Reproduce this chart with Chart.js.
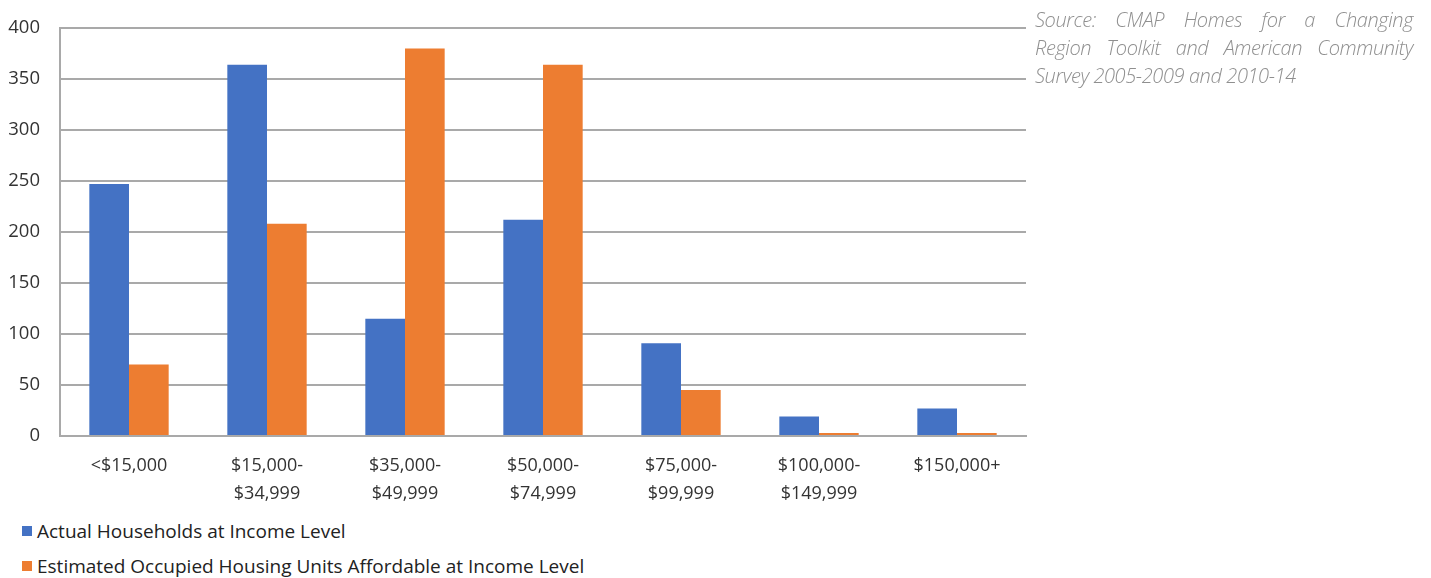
<!DOCTYPE html>
<html>
<head>
<meta charset="utf-8">
<script src="https://cdn.jsdelivr.net/npm/chart.js@4"></script>
<style>
  html, body { margin: 0; padding: 0; background: #ffffff; }
  body { width: 1431px; height: 578px; position: relative; overflow: hidden; font-family: "Open Sans", "Noto Sans", sans-serif; }
  #wrap { position: absolute; left: 0; top: 0; width: 1040px; height: 510px; }
  #legend { position: absolute; left: 22px; top: 513px; font-size: 19px; color: #222; }
  #legend .item { display: flex; align-items: center; height: 35px; }
  #legend .box { width: 10px; height: 10px; margin-right: 5px; }
  #source {
    position: absolute; left: 1035px; top: 6px; width: 378px;
    font-size: 20px; line-height: 28px; font-style: italic; font-weight: 300;
    color: #8f8f8f; letter-spacing: -0.4px;
  }
  #source .line { text-align: justify; text-align-last: justify; white-space: nowrap; }
  #source .line.last { text-align: left; text-align-last: left; }
</style>
</head>
<body>
<div id="wrap"><canvas id="chart"></canvas></div>
<div id="legend"></div>
<div id="source">
  <div class="line">Source: CMAP Homes for a Changing</div>
  <div class="line">Region Toolkit and American Community</div>
  <div class="line last">Survey 2005-2009 and 2010-14</div>
</div>
<script>
// Income brackets (two-line labels)
const incomeBrackets = [
  "<$15,000",
  ["$15,000-", "$34,999"],
  ["$35,000-", "$49,999"],
  ["$50,000-", "$74,999"],
  ["$75,000-", "$99,999"],
  ["$100,000-", "$149,999"],
  "$150,000+"
];

// Households by income level
const actualHouseholds = [247, 364, 115, 212, 91, 19, 27];

// Occupied units affordable at each income level
const affordableUnits = [70, 208, 380, 364, 45, 3, 3];

const seriesNames = [
  "Actual Households at Income Level",
  "Estimated Occupied Housing Units Affordable at Income Level"
];
const seriesColors = ["#4472C4", "#ED7D31"];

const gridColor = "#a9a9a9";
const tickFont = "'Open Sans', 'Noto Sans', sans-serif";

const chart = new Chart(document.getElementById("chart"), {
  type: "bar",
  data: {
    labels: incomeBrackets,
    datasets: [
      { label: seriesNames[0], data: actualHouseholds, backgroundColor: seriesColors[0] },
      { label: seriesNames[1], data: affordableUnits, backgroundColor: seriesColors[1] }
    ]
  },
  options: {
    responsive: true,
    maintainAspectRatio: false,
    animation: false,
    layout: { padding: { top: 28, right: 14, left: 0, bottom: 0 } },
    datasets: { bar: { categoryPercentage: 0.575, barPercentage: 1.0 } },
    plugins: { legend: { display: false }, tooltip: { enabled: false } },
    scales: {
      x: {
        grid: { display: false, drawTicks: false },
        border: { display: true, color: gridColor, width: 2 },
        ticks: {
          color: "#333",
          font: { family: tickFont, size: 18, lineHeight: 1.6 },
          padding: 15,
          maxRotation: 0,
          autoSkip: false
        },
        afterFit(axis) { axis.height = 74; }
      },
      y: {
        min: 0,
        max: 400,
        ticks: {
          stepSize: 50,
          color: "#333",
          font: { family: tickFont, size: 18.5 },
          padding: 20
        },
        grid: { color: gridColor, lineWidth: 2, drawTicks: false },
        border: { display: true, color: gridColor, width: 2 },
        afterFit(axis) {
          axis.width = 60;
          // the outer layout padding already leaves room for the end labels
          axis.paddingTop = 0;
          axis.paddingBottom = 0;
        }
      }
    }
  }
});

// Vertical legend built from the chart's datasets
const legendEl = document.getElementById("legend");
chart.data.datasets.forEach(ds => {
  const row = document.createElement("div");
  row.className = "item";
  const box = document.createElement("span");
  box.className = "box";
  box.style.background = ds.backgroundColor;
  const txt = document.createElement("span");
  txt.textContent = ds.label;
  row.appendChild(box);
  row.appendChild(txt);
  legendEl.appendChild(row);
});
</script>
</body>
</html>
